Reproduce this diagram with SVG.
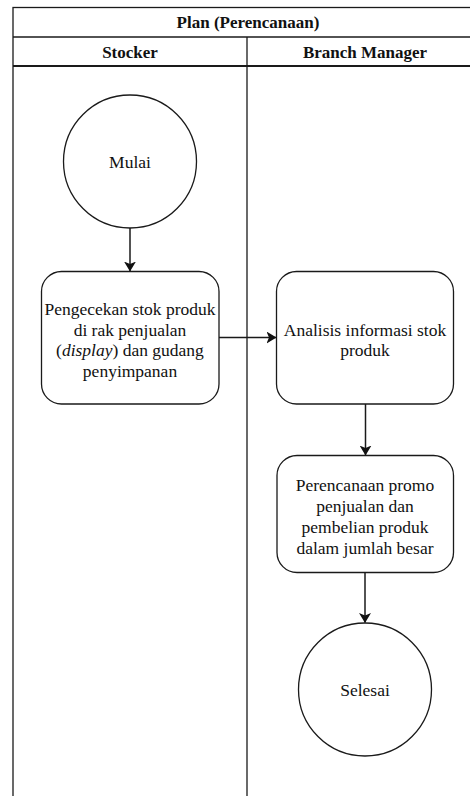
<svg xmlns="http://www.w3.org/2000/svg" width="470" height="796" viewBox="0 0 470 796">
  <defs>
    <style>
      .frame { fill: none; stroke: #1a1a1a; stroke-width: 1.3; }
      .shape { fill: #ffffff; stroke: #1a1a1a; stroke-width: 1.3; }
      .edge { fill: none; stroke: #1a1a1a; stroke-width: 1.5; }
    </style>
    <marker id="arrow" viewBox="0 0 10 12" refX="9.5" refY="6" markerWidth="10" markerHeight="12" markerUnits="userSpaceOnUse" orient="auto">
      <path d="M0,0 L10,6 L0,12 L2.5,6 Z" fill="#111"/>
    </marker>
  </defs>
  <rect width="470" height="796" fill="#ffffff"/>

  <!-- swimlane pool -->
  <g id="pool">
    <rect class="frame" x="13" y="7.5" width="470" height="800"/>
    <line class="frame" x1="13" y1="37" x2="483" y2="37"/>
    <line x1="13" y1="66" x2="483" y2="66" stroke="#1a1a1a" stroke-width="2"/>
    <line class="frame" x1="247" y1="37" x2="247" y2="800"/>
    <text font-family="Liberation Serif" font-weight="bold" font-size="17" fill="#111" text-anchor="middle" x="248" y="28">Plan (Perencanaan)</text>
    <text font-family="Liberation Serif" font-weight="bold" font-size="17" fill="#111" text-anchor="middle" x="130" y="58">Stocker</text>
    <text font-family="Liberation Serif" font-weight="bold" font-size="17" fill="#111" text-anchor="middle" x="365" y="58">Branch Manager</text>
  </g>

  <g id="mulai">
    <circle class="shape" cx="130" cy="161.5" r="66.5"/>
    <text font-family="Liberation Serif" font-size="17.5" fill="#111" text-anchor="middle" x="130" y="168">Mulai</text>
  </g>

  <g id="pengecekan">
    <rect class="shape" x="41.5" y="271.5" width="177.5" height="132.5" rx="20" ry="20"/>
    <text font-family="Liberation Serif" font-size="17.5" fill="#111" text-anchor="middle" x="130" y="315">Pengecekan stok produk</text>
    <text font-family="Liberation Serif" font-size="17.5" fill="#111" text-anchor="middle" x="130" y="335.5">di rak penjualan</text>
    <text font-family="Liberation Serif" font-size="17.5" fill="#111" text-anchor="middle" x="130" y="356">(<tspan font-style="italic">display</tspan>) dan gudang</text>
    <text font-family="Liberation Serif" font-size="17.5" fill="#111" text-anchor="middle" x="130" y="376.5">penyimpanan</text>
  </g>

  <g id="analisis">
    <rect class="shape" x="276.5" y="271.5" width="177" height="132.5" rx="20" ry="20"/>
    <text font-family="Liberation Serif" font-size="17.5" fill="#111" text-anchor="middle" x="365" y="335.5">Analisis informasi stok</text>
    <text font-family="Liberation Serif" font-size="17.5" fill="#111" text-anchor="middle" x="365" y="356">produk</text>
  </g>

  <g id="perencanaan">
    <rect class="shape" x="277" y="455.5" width="176.5" height="117" rx="20" ry="20"/>
    <text font-family="Liberation Serif" font-size="17.5" fill="#111" text-anchor="middle" x="365" y="491">Perencanaan promo</text>
    <text font-family="Liberation Serif" font-size="17.5" fill="#111" text-anchor="middle" x="365" y="512">penjualan dan</text>
    <text font-family="Liberation Serif" font-size="17.5" fill="#111" text-anchor="middle" x="365" y="533">pembelian produk</text>
    <text font-family="Liberation Serif" font-size="17.5" fill="#111" text-anchor="middle" x="365" y="554">dalam jumlah besar</text>
  </g>

  <g id="selesai">
    <circle class="shape" cx="365" cy="689.5" r="66.5"/>
    <text font-family="Liberation Serif" font-size="17.5" fill="#111" text-anchor="middle" x="365" y="696">Selesai</text>
  </g>

  <!-- connectors -->
  <g id="connectors">
    <line class="edge" x1="130" y1="228" x2="130" y2="271" marker-end="url(#arrow)"/>
    <line class="edge" x1="219" y1="337.5" x2="276" y2="337.5" marker-end="url(#arrow)"/>
    <line class="edge" x1="365.5" y1="404" x2="365.5" y2="455" marker-end="url(#arrow)"/>
    <line class="edge" x1="365" y1="572.5" x2="365" y2="622.5" marker-end="url(#arrow)"/>
  </g>
</svg>
